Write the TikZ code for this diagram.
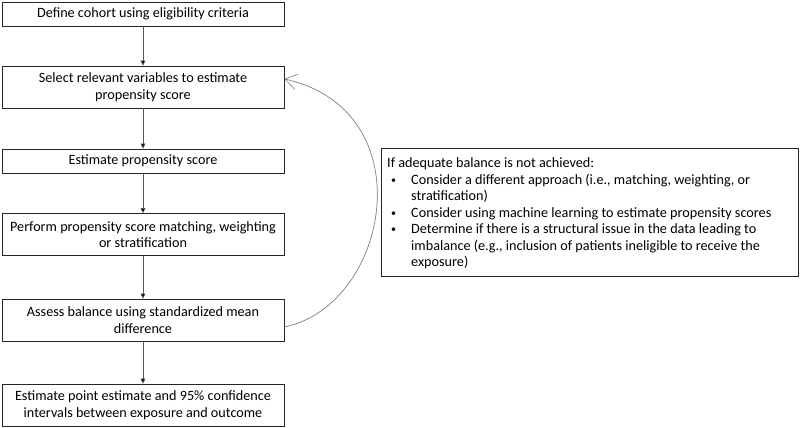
\documentclass[tikz,border=0pt]{standalone}
\usepackage{fontspec}
\setmainfont{Carlito}
\usetikzlibrary{arrows.meta}
\newcommand{\bulletmark}{\hspace*{4pt}\makebox[20pt][l]{\raisebox{0.8pt}{\fontsize{10}{10}\selectfont •}}}
\begin{document}
\begin{tikzpicture}[x=1pt,y=-1pt,
  stepbox/.style={draw=black!85, line width=0.9pt, minimum width=282pt, align=center, inner sep=0pt,
    font=\fontsize{14.2}{16.5}\selectfont},
  flow/.style={draw=black!65, line width=0.7pt, -{Triangle[length=5pt,width=5pt,fill=black]}},
  loopback/.style={draw=black!50, line width=0.7pt, -{Straight Barb[length=12pt,width=16pt,line width=0.6pt]}}
]
\useasboundingbox (0,0) rectangle (800,428);
\node[stepbox, minimum height=24pt] (b1) at (143,14) {Define cohort using eligibility criteria};
\node[stepbox, minimum height=42pt] (b2) at (143,87) {Select relevant variables to estimate\\propensity score};
\node[stepbox, minimum height=24pt] (b3) at (143,161) {Estimate propensity score};
\node[stepbox, minimum height=42pt] (b4) at (143,234.5) {Perform propensity score matching, weighting\\or stratification};
\node[stepbox, minimum height=42pt] (b5) at (143,320) {Assess balance using standardized mean\\difference};
\node[stepbox, minimum height=42pt] (b6) at (143,405) {Estimate point estimate and 95\% confidence\\intervals between exposure and outcome};
\node[draw=black!85, line width=0.9pt, minimum width=417pt, minimum height=128pt, inner sep=0pt] (note) at (589.5,212) {};
\node[anchor=north west, align=left, inner sep=0pt, font=\fontsize{14.2}{16.5}\selectfont] (notetext) at (387,157.5)
{If adequate balance is not achieved:\\
\bulletmark Consider a different approach (i.e., matching, weighting, or\\
\hspace*{24pt}stratification)\\
\bulletmark Consider using machine learning to estimate propensity scores\\
\bulletmark Determine if there is a structural issue in the data leading to\\
\hspace*{24pt}imbalance (e.g., inclusion of patients ineligible to receive the\\
\hspace*{24pt}exposure)};
\draw[flow] (b1) -- (b2);
\draw[flow] (b2) -- (b3);
\draw[flow] (b3) -- (b4);
\draw[flow] (b4) -- (b5);
\draw[flow] (b5) -- (b6);
\coordinate (cs) at ([yshift=-7pt]b5.east);
\coordinate (ce) at ([yshift=8pt]b2.east);
\draw[loopback] (cs) .. controls (390,305) and (425,110) .. (ce);
\end{tikzpicture}
\end{document}
